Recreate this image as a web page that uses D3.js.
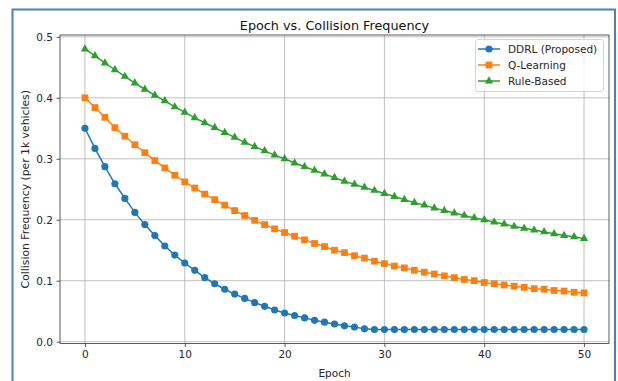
<!DOCTYPE html>
<html><head><meta charset="utf-8">
<script src="https://cdn.jsdelivr.net/npm/d3@7"></script>
<style>body{margin:0;background:#fff;}svg{display:block;font-family:"DejaVu Sans",sans-serif;}</style>
</head><body><svg id="c" width="618" height="381"></svg>
<script>
const epochs = d3.range(0, 51);
const ddrl = [0.350,0.317,0.287,0.259,0.235,0.212,0.192,0.174,0.157,0.142,0.129,0.117,0.105,0.095,0.086,0.078,0.071,0.064,0.058,0.052,0.047,0.043,0.039,0.035,0.032,0.029,0.026,0.024,0.021,0.020,0.020,0.020,0.020,0.020,0.020,0.020,0.020,0.020,0.020,0.020,0.020,0.020,0.020,0.020,0.020,0.020,0.020,0.020,0.020,0.020,0.020];
const qlearn = [0.400,0.384,0.368,0.351,0.337,0.323,0.310,0.297,0.285,0.273,0.262,0.252,0.242,0.233,0.224,0.215,0.207,0.199,0.192,0.185,0.179,0.173,0.167,0.161,0.156,0.150,0.146,0.141,0.137,0.132,0.128,0.124,0.121,0.117,0.114,0.111,0.108,0.105,0.102,0.100,0.097,0.095,0.093,0.091,0.089,0.087,0.086,0.084,0.083,0.081,0.080];
const rule = [0.480,0.469,0.457,0.446,0.435,0.424,0.414,0.404,0.395,0.385,0.376,0.367,0.359,0.351,0.343,0.335,0.327,0.320,0.313,0.306,0.300,0.293,0.287,0.281,0.275,0.269,0.263,0.258,0.253,0.248,0.243,0.238,0.233,0.228,0.224,0.219,0.215,0.211,0.207,0.203,0.200,0.196,0.193,0.189,0.186,0.183,0.180,0.177,0.174,0.172,0.169];
const seriesNames = ["DDRL (Proposed)","Q-Learning","Rule-Based"];
const xTicks = [0,10,20,30,40,50];
const yTicks = [0.0,0.1,0.2,0.3,0.4,0.5];
const title = "Epoch vs. Collision Frequency";
const xLabel = "Epoch";
const yLabel = "Collision Frequency (per 1k vehicles)";

const series = [
  {name: seriesNames[0], values: ddrl, color: "#1f77b4", marker: "circle"},
  {name: seriesNames[1], values: qlearn, color: "#ff7f0e", marker: "square"},
  {name: seriesNames[2], values: rule, color: "#2ca02c", marker: "triangle"}
];

const svg = d3.select("#c");
svg.append("rect").attr("x",12.5).attr("y",9.5).attr("width",602.5).attr("height",400)
  .attr("fill","none").attr("stroke","#4a7ebf").attr("stroke-width",2);

const L=60, R=609, T=35, B=343.5;
const x = d3.scaleLinear().domain([-2.5,52.5]).range([L,R]);
const y = d3.scaleLinear().domain([-0.003,0.503]).range([B,T]);

const g = svg.append("g");
g.selectAll(".gx").data(xTicks).join("line")
  .attr("x1",d=>x(d)).attr("x2",d=>x(d)).attr("y1",T).attr("y2",B)
  .attr("stroke","#b0b0b0").attr("stroke-width",0.8);
g.selectAll(".gy").data(yTicks).join("line")
  .attr("y1",d=>y(d)).attr("y2",d=>y(d)).attr("x1",L).attr("x2",R)
  .attr("stroke","#b0b0b0").attr("stroke-width",0.8);

const xAxis = d3.axisBottom(x).tickValues(xTicks).tickSize(3.5).tickPadding(3.5).tickFormat(d3.format("d"));
const yAxis = d3.axisLeft(y).tickValues(yTicks).tickSize(3.5).tickPadding(3.5).tickFormat(d3.format(".1f"));
const gx = svg.append("g").attr("transform",`translate(0,${B})`).call(xAxis);
const gy = svg.append("g").attr("transform",`translate(${L},0)`).call(yAxis);
[gx,gy].forEach(a=>{
  a.select(".domain").remove();
  a.selectAll("line").attr("stroke","#333").attr("stroke-width",0.8);
  a.selectAll("text").attr("fill","#262626").style("font-size","10.5px").style("font-family","DejaVu Sans");
});

const line = d3.line().x((d,i)=>x(epochs[i])).y(d=>y(d));
const sym = {circle: d3.symbolCircle, square: d3.symbolSquare, triangle: d3.symbolTriangle};
const symSize = {circle: 40, square: 46, triangle: 30};
series.forEach(s=>{
  svg.append("path").datum(s.values).attr("d",line).attr("fill","none")
    .attr("stroke",s.color).attr("stroke-width",1.5);
  svg.append("g").selectAll("path").data(s.values).join("path")
    .attr("transform",(d,i)=>`translate(${x(epochs[i])},${y(d)})`)
    .attr("d",d3.symbol().type(sym[s.marker]).size(symSize[s.marker]))
    .attr("fill",s.color);
});

svg.append("rect").attr("x",L).attr("y",T).attr("width",R-L).attr("height",B-T)
  .attr("fill","none").attr("stroke","#333").attr("stroke-width",0.8);

svg.append("text").attr("x",(L+R)/2).attr("y",30).attr("text-anchor","middle")
  .style("font-size","12.8px").attr("fill","#111").text(title);
svg.append("text").attr("x",(L+R)/2).attr("y",377).attr("text-anchor","middle")
  .style("font-size","10.5px").attr("fill","#262626").text(xLabel);
svg.append("text").attr("transform",`translate(29,${(T+B)/2}) rotate(-90)`).attr("text-anchor","middle")
  .style("font-size","10.8px").attr("fill","#262626").text(yLabel);

const lg = svg.append("g").attr("transform","translate(475,39)");
lg.append("rect").attr("x",0.5).attr("y",0.5).attr("width",128).attr("height",52).attr("rx",2.5)
  .attr("fill","#fff").attr("fill-opacity",0.8).attr("stroke","#ccc").attr("stroke-width",0.8);
series.forEach((s,i)=>{
  const yy = 10 + i*16;
  lg.append("line").attr("x1",3).attr("x2",25).attr("y1",yy).attr("y2",yy)
    .attr("stroke",s.color).attr("stroke-width",1.5);
  lg.append("path").attr("transform",`translate(14,${yy})`)
    .attr("d",d3.symbol().type(sym[s.marker]).size(symSize[s.marker])).attr("fill",s.color);
  lg.append("text").attr("x",33).attr("y",yy+3.8).style("font-size","10.5px").attr("fill","#262626").text(s.name);
});
</script>
</body></html>
